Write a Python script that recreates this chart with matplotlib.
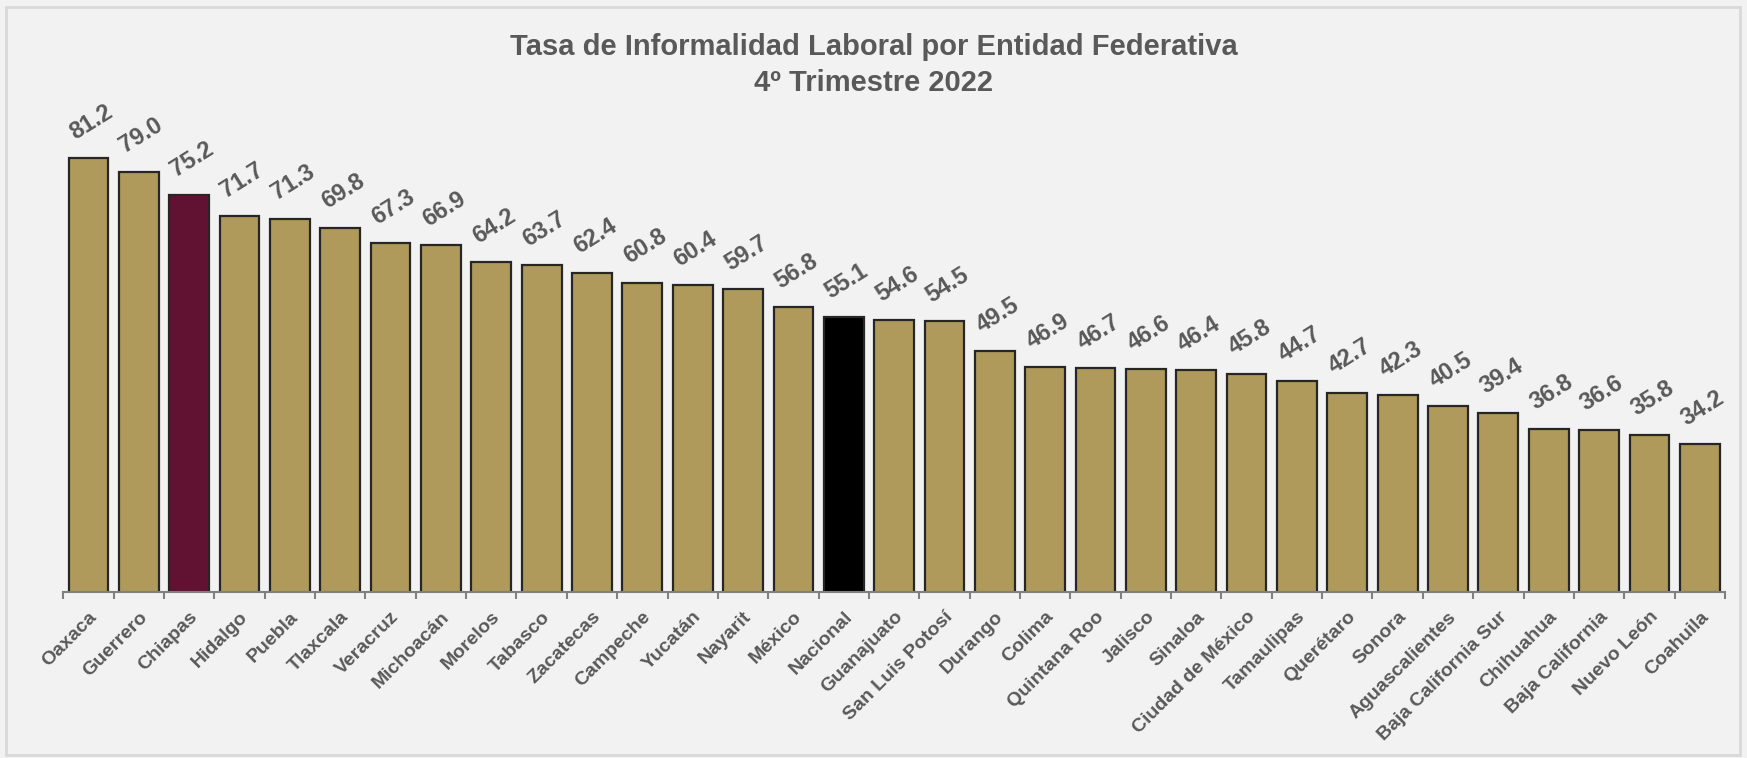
import matplotlib
matplotlib.use("Agg")
import matplotlib.pyplot as plt
import matplotlib.transforms as mtransforms
from matplotlib.patches import Rectangle

categories = ["Oaxaca", "Guerrero", "Chiapas", "Hidalgo", "Puebla", "Tlaxcala", "Veracruz",
              "Michoacán", "Morelos", "Tabasco", "Zacatecas", "Campeche", "Yucatán", "Nayarit",
              "México", "Nacional", "Guanajuato", "San Luis Potosí", "Durango", "Colima",
              "Quintana Roo", "Jalisco", "Sinaloa", "Ciudad de México", "Tamaulipas", "Querétaro",
              "Sonora", "Aguascalientes", "Baja California Sur", "Chihuahua", "Baja California",
              "Nuevo León", "Coahuila"]
values = [81.2, 79.0, 75.2, 71.7, 71.3, 69.8, 67.3, 66.9, 64.2, 63.7, 62.4, 60.8, 60.4, 59.7,
          56.8, 55.1, 54.6, 54.5, 49.5, 46.9, 46.7, 46.6, 46.4, 45.8, 44.7, 42.7, 42.3, 40.5,
          39.4, 36.8, 36.6, 35.8, 34.2]
title_lines = ["Tasa de Informalidad Laboral por Entidad Federativa", "4º Trimestre 2022"]

GOLD = "#AF9A5C"
WINE = "#611232"
BLACK = "#000000"
TEXT = "#595959"
BG = "#F2F2F2"

colors = []
for c in categories:
    if c == "Chiapas":
        colors.append(WINE)
    elif c == "Nacional":
        colors.append(BLACK)
    else:
        colors.append(GOLD)

plt.rcParams['font.family'] = ['Liberation Sans', 'DejaVu Sans']
plt.rcParams['font.weight'] = 'bold'

fig = plt.figure(figsize=(17.47, 7.58), dpi=100, facecolor=BG)
fig.patches.append(Rectangle((0.0035, 0.004), 0.9925, 0.9865, transform=fig.transFigure,
                             fill=False, edgecolor="#D9D9D9", linewidth=2.0, zorder=-1))

ax = fig.add_axes([0.0362, 0.2194, 0.9512, 0.6422])
ax.set_facecolor(BG)
ax.patch.set_alpha(0)

x = list(range(len(categories)))
ax.bar(x, values, width=0.79, color=colors, edgecolor="#262626", linewidth=1.6, bottom=0)
ax.set_ylim(10, 90)
ax.set_xlim(-0.5, len(categories) - 0.5)

for xi, v in zip(x, values):
    ax.annotate(f"{v:.1f}", xy=(xi, v), xytext=(2, 26), textcoords="offset points",
                ha="center", va="center", rotation=32, fontsize=17, fontweight="bold",
                color=TEXT)

for s in ["left", "right", "top"]:
    ax.spines[s].set_visible(False)
ax.spines["bottom"].set_color("#808080")
ax.spines["bottom"].set_linewidth(1.5)
ax.set_yticks([])

ax.set_xticks([i - 0.5 for i in range(len(categories) + 1)], minor=False)
ax.set_xticklabels([])
ax.tick_params(axis="x", which="major", direction="out", length=5, width=1.5, color="#808080")
ax.set_xticks(x, minor=True)
ax.set_xticklabels(categories, minor=True, rotation=45, ha="right", rotation_mode="anchor",
                   fontsize=14, fontweight="bold", color=TEXT)
ax.tick_params(axis="x", which="minor", length=0, pad=12)
offset = mtransforms.ScaledTranslation(0 / 100, 0, fig.dpi_scale_trans)
for lbl in ax.get_xticklabels(minor=True):
    lbl.set_transform(lbl.get_transform() + offset)

fig.text(0.5, 0.938, title_lines[0], ha="center", va="center", fontsize=21,
         fontweight="bold", color=TEXT)
fig.text(0.5, 0.891, title_lines[1], ha="center", va="center", fontsize=21,
         fontweight="bold", color=TEXT)

fig.savefig("out.png", dpi=100, facecolor=BG)
